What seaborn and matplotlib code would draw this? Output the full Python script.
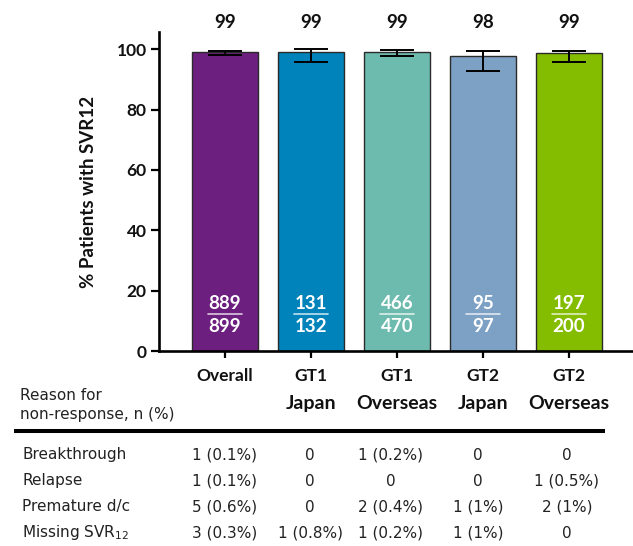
import matplotlib
matplotlib.use("Agg")
import matplotlib.pyplot as plt
from matplotlib.lines import Line2D
import seaborn as sns
import pandas as pd

# ---- data ----
categories = ["Overall", "GT1 Japan", "GT1 Overseas", "GT2 Japan", "GT2 Overseas"]
label_top = ["Overall", "GT1", "GT1", "GT2", "GT2"]
label_bottom = ["", "Japan", "Overseas", "Japan", "Overseas"]
svr_pct = [99.0, 99.2, 99.1, 97.9, 98.7]
ci_low = [98.1, 95.9, 97.8, 92.8, 95.8]
ci_high = [99.5, 100.0, 99.9, 99.5, 99.5]
pct_labels = ["99", "99", "99", "98", "99"]
responders = [889, 131, 466, 95, 197]
totals = [899, 132, 470, 97, 200]
colors = ["#6C1F7E", "#0082BA", "#6CBBAE", "#7DA1C4", "#84BC00"]
yticks = [0, 20, 40, 60, 80, 100]

table_header = "Reason for\nnon-response, n (%)"
reasons = ["Breakthrough", "Relapse", "Premature d/c", "Missing SVR$_{12}$"]
breakthrough = ["1 (0.1%)", "0", "1 (0.2%)", "0", "0"]
relapse = ["1 (0.1%)", "0", "0", "0", "1 (0.5%)"]
premature = ["5 (0.6%)", "0", "2 (0.4%)", "1 (1%)", "2 (1%)"]
missing = ["3 (0.3%)", "1 (0.8%)", "1 (0.2%)", "1 (1%)", "0"]
table_rows = [breakthrough, relapse, premature, missing]

df = pd.DataFrame({"cat": categories, "pct": svr_pct})

sns.set_theme(style="white")
plt.rcParams["font.family"] = ["Lato", "DejaVu Sans"]
plt.rcParams["mathtext.default"] = "regular"

W, H = 633, 546
fig = plt.figure(figsize=(W / 100, H / 100), dpi=100)
ax_left, ax_bottom_px, ax_top_px, ax_right = 158.7, 351.0, 32.3, 633.0
ax = fig.add_axes([ax_left / W, 1 - ax_bottom_px / H,
                   (ax_right - ax_left) / W, (ax_bottom_px - ax_top_px) / H])

sns.barplot(data=df, x="cat", y="pct", hue="cat", palette=colors, legend=False,
            errorbar=None, width=0.77, saturation=1, edgecolor="#2a2a2a",
            linewidth=1.0, ax=ax)

xs = list(range(len(categories)))
lower = [v - lo for v, lo in zip(svr_pct, ci_low)]
upper = [hi - v for v, hi in zip(svr_pct, ci_high)]
ax.errorbar(xs, svr_pct, yerr=[lower, upper], fmt="none", ecolor="black",
            elinewidth=1.4, capsize=12, capthick=1.4, zorder=5)

ax.set_xlim(-0.771, 4.744)
ax.set_ylim(0, 105.6)
ax.set_yticks(yticks)
ax.set_yticklabels([str(t) for t in yticks], fontsize=12.5, fontweight="bold", color="#111111")
ax.set_xticks(xs)
ax.set_xticklabels([""] * len(xs))
ax.tick_params(axis="y", length=5.8, width=1.6, pad=2.9, left=True, color="black")
ax.tick_params(axis="x", length=5.0, width=1.6, bottom=True, color="black")
for s in ["top", "right"]:
    ax.spines[s].set_visible(False)
for s in ["left", "bottom"]:
    ax.spines[s].set_linewidth(1.9)
    ax.spines[s].set_color("black")
ax.set_xlabel("")
ax.set_ylabel("% Patients with SVR12", fontsize=13.5, fontweight="bold", color="#111111")
ax.yaxis.set_label_coords(-0.1307, 0.5)

xt = ax.get_xaxis_transform()
for i in xs:
    ax.text(i, 108.9, pct_labels[i], ha="center", va="center", fontsize=13.5,
            fontweight="bold", color="#111111", clip_on=False)
    ax.text(i, 15.6, str(responders[i]), ha="center", va="center", fontsize=13.5,
            fontweight="bold", color="white")
    ax.text(i, 8.0, str(totals[i]), ha="center", va="center", fontsize=13.5,
            fontweight="bold", color="white")
    ax.plot([i - 0.198, i + 0.198], [12.3, 12.3], color="white", alpha=0.75, lw=1.2)
    ax.text(i, -0.0784, label_top[i], transform=xt, ha="center", va="center",
            fontsize=12.5, fontweight="bold", color="#111111", clip_on=False)
    if label_bottom[i]:
        ax.text(i, -0.1663, label_bottom[i], transform=xt, ha="center", va="center",
                fontsize=14, fontweight="bold", color="#111111", clip_on=False)

# ---- table below ----
tfont = ["DejaVu Sans"]
fig.text(20 / W, 1 - 405 / H, table_header, ha="left", va="center", fontsize=11,
         family=tfont, color="#222222", linespacing=1.35)
fig.add_artist(Line2D([14 / W, 605 / W], [1 - 431 / H, 1 - 431 / H],
                      color="black", lw=2.9, solid_capstyle="butt"))
row_y = [455, 481, 507, 533]
col_x = [224.5, 310, 391, 478, 567]
for r, (name, vals) in enumerate(zip(reasons, table_rows)):
    fig.text(22 / W, 1 - row_y[r] / H, name, ha="left", va="center", fontsize=11,
             family=tfont, color="#222222")
    for c, v in enumerate(vals):
        fig.text(col_x[c] / W, 1 - row_y[r] / H, v, ha="center", va="center",
                 fontsize=11, family=tfont, color="#222222")

fig.savefig("out.png", dpi=100)
